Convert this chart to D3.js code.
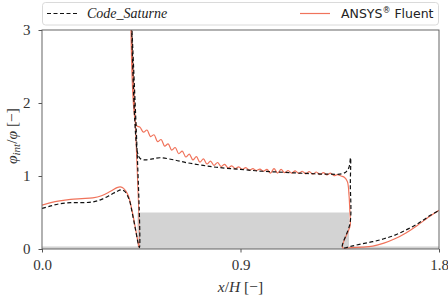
<!DOCTYPE html>
<html><head><meta charset="utf-8">
<script src="https://cdn.jsdelivr.net/npm/d3@7/dist/d3.min.js"></script>
<style>body{margin:0;background:#fff}svg{display:block}</style>
</head><body><svg id="c" width="448" height="297"></svg>
<script>
// Series as (x/H, phi_int/phi) points along the measurement path
const saturneX = [0,0.04,0.08,0.13,0.18,0.23,0.27,0.31,0.34,0.36,0.375,0.395,0.41,0.425,0.435,0.442,
  0.404,0.433,0.445,0.467,0.50,0.535,0.60,0.66,0.72,0.79,0.9,1.0,1.1,1.2,1.3,1.36,1.38,1.392,1.399,1.398,1.397,1.363,
  1.404,1.45,1.50,1.55,1.60,1.65,1.70,1.75,1.80];
const saturneY = [0.555,0.59,0.62,0.635,0.635,0.645,0.68,0.74,0.79,0.81,0.79,0.68,0.48,0.25,0.09,0.02,
  3.3,1.32,1.24,1.22,1.235,1.25,1.22,1.18,1.15,1.12,1.09,1.065,1.05,1.035,1.025,1.03,1.06,1.12,1.25,0.9,0.36,0.02,
  0.04,0.07,0.10,0.14,0.19,0.26,0.34,0.44,0.53];
const fluentX = [0,0.04,0.08,0.13,0.18,0.23,0.27,0.31,0.34,0.355,0.37,0.39,0.41,0.425,0.435,0.441,
  0.402,0.429,0.444,0.46,0.476,0.492,0.508,0.524,0.54,0.556,0.572,0.588,0.604,0.62,0.636,0.652,0.668,0.684,0.70,
  0.716,0.732,0.748,0.764,0.78,0.796,0.812,0.828,0.844,0.86,0.876,0.892,0.908,0.924,0.94,0.956,0.972,0.988,
  1.004,1.02,1.036,1.052,1.068,1.084,1.10,1.116,1.132,1.148,1.164,1.18,1.196,1.212,1.228,1.244,1.26,1.276,
  1.292,1.308,1.324,1.34,1.356,1.372,1.385,1.392,1.396,1.397,1.363,
  1.405,1.45,1.50,1.55,1.60,1.65,1.70,1.75,1.80];
const fluentY = [0.60,0.635,0.66,0.68,0.69,0.70,0.73,0.79,0.84,0.85,0.83,0.74,0.50,0.26,0.10,0.02,
  3.3,1.69,1.67,1.60,1.63,1.54,1.565,1.47,1.50,1.41,1.44,1.355,1.39,1.305,1.34,1.26,1.30,1.22,1.265,
  1.19,1.235,1.165,1.205,1.145,1.185,1.13,1.16,1.11,1.14,1.10,1.125,1.09,1.115,1.08,1.10,1.075,1.095,
  1.065,1.09,1.04,1.10,1.04,1.09,1.045,1.075,1.04,1.07,1.035,1.065,1.03,1.06,1.025,1.055,1.02,1.045,
  1.015,1.04,1.005,1.02,1.00,0.98,0.92,0.74,0.5,0.32,0.02,
  0.02,0.025,0.04,0.08,0.14,0.22,0.32,0.43,0.53];
const obstacle = {x0:0.433, x1:1.392, h:0.5};
const floorBand = 0.035;
const xTicks = [0.0,0.9,1.8];
const yTicks = [0,1,2,3];

const svg = d3.select("#c");
const m = {l:42, r:9, t:30, b:48};
const W = 448, H = 297;
const x = d3.scaleLinear().domain([0,1.8]).range([m.l, W-m.r]);
const y = d3.scaleLinear().domain([0,3]).range([H-m.b, m.t]);

svg.append("defs").append("clipPath").attr("id","clip")
  .append("rect").attr("x",m.l).attr("y",m.t).attr("width",W-m.l-m.r).attr("height",H-m.t-m.b);

const g = svg.append("g").attr("clip-path","url(#clip)");
g.append("rect").attr("x",x(obstacle.x0)).attr("y",y(obstacle.h))
  .attr("width",x(obstacle.x1)-x(obstacle.x0)).attr("height",y(0)-y(obstacle.h)).attr("fill","#d3d3d3");
g.append("rect").attr("x",x(0)).attr("y",y(floorBand))
  .attr("width",x(1.8)-x(0)).attr("height",y(0)-y(floorBand)).attr("fill","#d3d3d3");

const line = d3.line().x(d=>x(d[0])).y(d=>y(d[1])).curve(d3.curveCatmullRom.alpha(0.5));
g.append("path").datum(fluentX.map((v,i)=>[v,fluentY[i]]))
  .attr("d",line).attr("fill","none").attr("stroke","#f0735b").attr("stroke-width",1.2);
g.append("path").datum(saturneX.map((v,i)=>[v,saturneY[i]]))
  .attr("d",line).attr("fill","none").attr("stroke","#111").attr("stroke-width",1.2)
  .attr("stroke-dasharray","4,2.5");

// frame
svg.append("rect").attr("x",m.l).attr("y",m.t).attr("width",W-m.l-m.r).attr("height",H-m.t-m.b)
  .attr("fill","none").attr("stroke","#555").attr("stroke-width",0.9);

const xa = svg.append("g").attr("transform",`translate(0,${H-m.b})`)
  .call(d3.axisBottom(x).tickValues(xTicks).tickFormat(d3.format(".1f")).tickSize(3.5).tickPadding(7));
const ya = svg.append("g").attr("transform",`translate(${m.l},0)`)
  .call(d3.axisLeft(y).tickValues(yTicks).tickFormat(d3.format("d")).tickSize(3.5).tickPadding(8));
[xa,ya].forEach(a=>{
  a.select(".domain").remove();
  a.selectAll(".tick line").attr("stroke","#555");
  a.selectAll("text").attr("font-family","'Liberation Serif',serif").attr("font-size",15).attr("fill","#333");
});

// axis labels
const xl = svg.append("text").attr("x",(m.l+W-m.r)/2).attr("y",292).attr("text-anchor","middle")
  .attr("font-family","'Liberation Serif',serif").attr("font-size",15.5).attr("fill","#333");
xl.append("tspan").attr("font-style","italic").text("x");
xl.append("tspan").text("/");
xl.append("tspan").attr("font-style","italic").text("H");
xl.append("tspan").text(" [−]");

const yl = svg.append("text").attr("transform","translate(17,136) rotate(-90)").attr("text-anchor","middle")
  .attr("font-family","'Liberation Serif',serif").attr("font-size",15.5).attr("fill","#333");
yl.append("tspan").attr("font-style","italic").text("φ");
yl.append("tspan").attr("font-style","italic").attr("font-size",11).attr("dy",3).text("int");
yl.append("tspan").attr("dy",-3).text("/");
yl.append("tspan").attr("font-style","italic").text("φ");
yl.append("tspan").text(" [−]");

// legend
const lg = svg.append("g");
lg.append("rect").attr("x",42.5).attr("y",2.5).attr("width",396).attr("height",22.5).attr("rx",3)
  .attr("fill","#fff").attr("stroke","#d0d0d0").attr("stroke-width",0.8);
lg.append("line").attr("x1",47).attr("x2",77).attr("y1",13.5).attr("y2",13.5)
  .attr("stroke","#111").attr("stroke-width",1.2).attr("stroke-dasharray","4,2.5");
lg.append("text").attr("x",87).attr("y",18).attr("font-family","'Liberation Serif',serif")
  .attr("font-style","italic").attr("font-size",14).attr("fill","#222").text("Code_Saturne");
lg.append("line").attr("x1",300).attr("x2",330).attr("y1",13.5).attr("y2",13.5)
  .attr("stroke","#f0735b").attr("stroke-width",1.2);
const ft = lg.append("text").attr("x",341).attr("y",18).attr("font-family","'DejaVu Sans',sans-serif")
  .attr("font-size",12.5).attr("fill","#222");
ft.append("tspan").text("ANSYS");
ft.append("tspan").attr("font-size",8).attr("dy",-5).text("®");
ft.append("tspan").attr("dy",5).text(" Fluent");
</script></body></html>
